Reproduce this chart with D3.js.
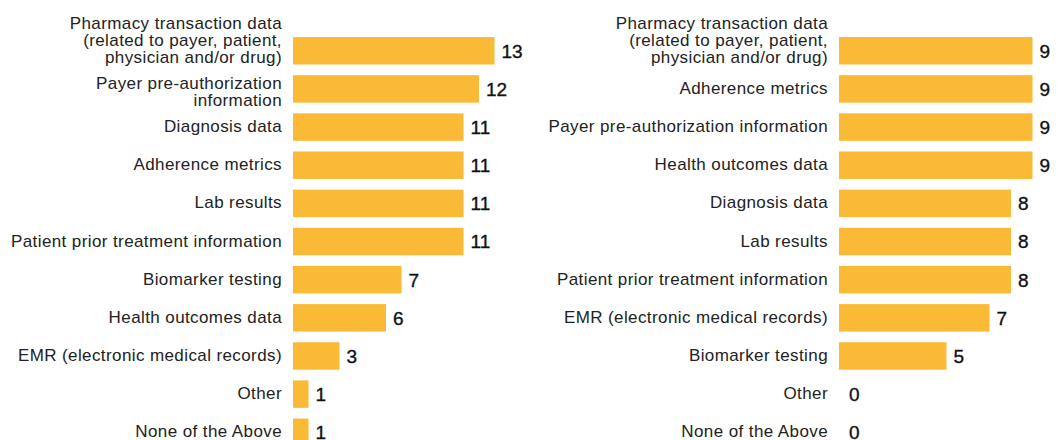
<!DOCTYPE html>
<html lang="en">
<head>
<meta charset="utf-8">
<title>Data sources</title>
<script src="https://cdn.jsdelivr.net/npm/d3@7"></script>
<style>
  body { margin: 0; background: #fff; overflow: hidden; }
  .label { font-family: "Liberation Sans", Arial, sans-serif; font-size: 17px; letter-spacing: 0.4px; fill: #222; }
  .value { font-family: "Liberation Sans", Arial, sans-serif; font-size: 19px; fill: #111; stroke: #111; stroke-width: 0.35px; }
</style>
</head>
<body>
<div id="chart"></div>
<script>
var width = 1062,
    height = 440;

// left panel
var leftCategories = [
  "Pharmacy transaction data\n(related to payer, patient,\nphysician and/or drug)",
  "Payer pre-authorization\ninformation",
  "Diagnosis data",
  "Adherence metrics",
  "Lab results",
  "Patient prior treatment information",
  "Biomarker testing",
  "Health outcomes data",
  "EMR (electronic medical records)",
  "Other",
  "None of the Above"
];
var leftValues = [13, 12, 11, 11, 11, 11, 7, 6, 3, 1, 1];

// right panel
var rightCategories = [
  "Pharmacy transaction data\n(related to payer, patient,\nphysician and/or drug)",
  "Adherence metrics",
  "Payer pre-authorization information",
  "Health outcomes data",
  "Diagnosis data",
  "Lab results",
  "Patient prior treatment information",
  "EMR (electronic medical records)",
  "Biomarker testing",
  "Other",
  "None of the Above"
];
var rightValues = [9, 9, 9, 9, 8, 8, 8, 7, 5, 0, 0];

var barColor = "#fbba36";

var svg = d3.select("#chart")
  .append("svg")
  .attr("width", width)
  .attr("height", height);

function drawPanel(cats, vals, x0, x1, maxVal) {
  var data = cats.map(function(c, i) { return { cat: c, value: vals[i] }; });

  var x = d3.scaleLinear().domain([0, maxVal]).range([x0, x1]);
  var y = d3.scaleBand()
    .domain(cats)
    .range([31.7, 31.7 + 11 * 38.15])
    .paddingInner(0.28)
    .paddingOuter(0.14);

  var g = svg.append("g");

  g.selectAll("rect")
    .data(data)
    .enter().append("rect")
      .attr("x", x(0))
      .attr("y", function(d) { return y(d.cat); })
      .attr("width", function(d) { return x(d.value) - x(0); })
      .attr("height", y.bandwidth())
      .attr("fill", barColor);

  // category labels, manual line breaks (baseline offsets from bar centre)
  var lineOffsets = {
    1: [5],
    2: [0.5, 17.5],
    3: [-22, -5, 12]
  };
  g.selectAll("text.label")
    .data(data)
    .enter().append("text")
      .attr("class", "label")
      .attr("text-anchor", "end")
      .each(function(d) {
        var lines = d.cat.split("\n");
        var cy = y(d.cat) + y.bandwidth() / 2;
        var t = d3.select(this);
        lines.forEach(function(line, i) {
          t.append("tspan")
            .attr("x", x0 - 11)
            .attr("y", cy + lineOffsets[lines.length][i])
            .text(line);
        });
      });

  g.selectAll("text.value")
    .data(data)
    .enter().append("text")
      .attr("class", "value")
      .attr("x", function(d) { return x(d.value) + (d.value === 0 ? 10 : 7); })
      .attr("y", function(d) { return y(d.cat) + y.bandwidth() / 2; })
      .attr("dy", "0.36em")
      .text(function(d) { return d.value; });
}

drawPanel(leftCategories, leftValues, 293, 494.5, 13);
drawPanel(rightCategories, rightValues, 839, 1032.5, 9);
</script>
</body>
</html>
